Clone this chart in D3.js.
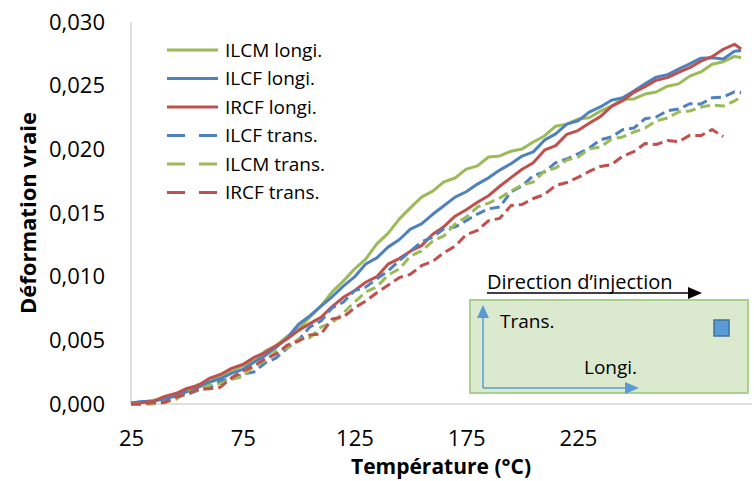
<!DOCTYPE html>
<html><head><meta charset="utf-8">
<script src="https://cdn.jsdelivr.net/npm/d3@7"></script>
<style>body{margin:0;background:#fff} text{font-family:"Open Sans",sans-serif;fill:#000}</style>
</head><body><svg id="c" width="754" height="481"></svg>
<script>
const temps = [25,30,35,40,45,50,55,60,65,70,75,80,85,90,95,100,105,110,115,120,125,130,135,140,145,150,155,160,165,170,175,180,185,190,195,200,205,210,215,220,225,230,235,240,245,250,255,260,265,270,275,280,285,290,295,298];
const ilcmLongi = [.00008,.00016,.00030,.00045,.00075,.00105,.00152,.00178,.00225,.00255,
 .00302,.00340,.00415,.00458,.00532,.00590,.00682,.00770,.00880,.00965,
 .01060,.01138,.01258,.01340,.01452,.01540,.01625,.01672,.01745,.01775,
 .01845,.01870,.01940,.01948,.01985,.02002,.02058,.02105,.02182,.02198,
 .02238,.02248,.02300,.02340,.02394,.02396,.02434,.02450,.02496,.02514,
 .02575,.02608,.02668,.02688,.02730,.02722];
const ilcfLongi = [.00008,.00020,.00022,.00043,.00060,.00098,.00130,.00170,.00200,.00240,
 .00272,.00328,.00380,.00446,.00520,.00626,.00692,.00768,.00842,.00926,
 .00998,.01099,.01148,.01232,.01290,.01373,.01415,.01490,.01557,.01625,
 .01667,.01727,.01776,.01837,.01887,.01947,.01980,.02072,.02121,.02198,
 .02224,.02292,.02333,.02386,.02405,.02458,.02514,.02567,.02585,.02630,
 .02671,.02716,.02719,.02710,.02770,.02776];
const ircfLongi = [0,.00012,.00020,.00060,.00082,.00123,.00145,.00201,.00232,.00280,
 .00310,.00366,.00404,.00460,.00513,.00578,.00631,.00680,.00765,.00838,
 .00890,.00956,.01000,.01098,.01142,.01200,.01244,.01333,.01393,.01475,
 .01526,.01584,.01636,.01710,.01778,.01844,.01895,.01993,.02029,.02118,
 .02147,.02205,.02257,.02338,.02382,.02448,.02492,.02543,.02563,.02605,
 .02642,.02692,.02728,.02786,.02825,.02788];
const ilcfTrans = [0,0,.00012,.00020,.00060,.00075,.00108,.00128,.00180,.00198,
 .00234,.00252,.00322,.00362,.00440,.00502,.00605,.00652,.00755,.00800,
 .00890,.00918,.00984,.01044,.01125,.01200,.01274,.01310,.01376,.01390,
 .01440,.01492,.01533,.01547,.01667,.01712,.01793,.01822,.01895,.01924,
 .01965,.02010,.02075,.02097,.02154,.02167,.02240,.02254,.02303,.02316,
 .02358,.02356,.02405,.02411,.02452,.02445];
const ilcmTrans = [0,0,0,.00012,.00035,.00092,.00112,.00147,.00160,.00194,
 .00215,.00298,.00340,.00415,.00442,.00510,.00520,.00604,.00638,.00715,
 .00800,.00880,.00920,.01013,.01060,.01162,.01202,.01280,.01320,.01414,
 .01468,.01547,.01578,.01618,.01673,.01720,.01743,.01830,.01853,.01916,
 .01940,.02003,.02018,.02081,.02097,.02136,.02167,.02223,.02246,.02293,
 .02301,.02332,.02348,.02340,.02380,.02410];
const ircfTrans = [0,0,.00012,.00012,.00052,.00080,.00116,.00120,.00132,.00205,
 .00258,.00298,.00354,.00393,.00463,.00495,.00542,.00550,.00668,.00683,
 .00755,.00808,.00874,.00932,.00992,.01019,.01086,.01121,.01188,.01239,
 .01330,.01363,.01440,.01458,.01558,.01567,.01614,.01645,.01716,.01739,
 .01780,.01826,.01866,.01880,.01946,.01982,.02046,.02038,.02069,.02060,
 .02110,.02108,.02155,.02100];
const seriesNames = ["ILCM longi.","ILCF longi.","IRCF longi.","ILCF trans.","ILCM trans.","IRCF trans."];
const xTicks = [25,75,125,175,225];
const yTicks = [0,0.005,0.010,0.015,0.020,0.025,0.030];

const GREEN="#9BBB59", BLUE="#4F81BD", RED="#C0504D";
const series = [
  {name:seriesNames[0], values:ilcmLongi, color:GREEN, dash:false},
  {name:seriesNames[1], values:ilcfLongi, color:BLUE, dash:false},
  {name:seriesNames[2], values:ircfLongi, color:RED, dash:false},
  {name:seriesNames[3], values:ilcfTrans, color:BLUE, dash:true},
  {name:seriesNames[4], values:ilcmTrans, color:GREEN, dash:true},
  {name:seriesNames[5], values:ircfTrans, color:RED, dash:true}
];

const svg = d3.select("#c");
const x = d3.scaleLinear().domain([25,300]).range([131,745.6]);
const y = d3.scaleLinear().domain([0,0.03]).range([404,22]);
const fmt = v => d3.format(".3f")(v).replace(".", ",");

// axis lines
svg.append("line").attr("x1",131).attr("x2",131).attr("y1",y(0.03)).attr("y2",y(0)).attr("stroke","#bfbfbf").attr("stroke-width",1);
svg.append("line").attr("x1",131).attr("x2",752).attr("y1",y(0)).attr("y2",y(0)).attr("stroke","#bfbfbf").attr("stroke-width",1);

const gy = svg.append("g").attr("transform","translate(131,0)")
  .call(d3.axisLeft(y).tickValues(yTicks).tickSize(0).tickPadding(26).tickFormat(fmt));
gy.select(".domain").remove();
gy.selectAll("text").style("font-size","22px").style("font-family","'Open Sans',sans-serif").attr("fill","#000");

const gx = svg.append("g").attr("transform","translate(0,404)")
  .call(d3.axisBottom(x).tickValues(xTicks).tickSize(0).tickPadding(26).tickFormat(d3.format("d")));
gx.select(".domain").remove();
gx.selectAll("text").style("font-size","22px").style("font-family","'Open Sans',sans-serif").attr("fill","#000");

// titles
svg.append("text").attr("transform","translate(36,213) rotate(-90)").attr("text-anchor","middle")
  .style("font-size","22px").style("font-weight","bold").text("Déformation vraie");
svg.append("text").attr("x",441).attr("y",474).attr("text-anchor","middle")
  .style("font-size","21px").style("font-weight","bold").text("Température (°C)");

// lines
const line = d3.line().x((d,i)=>x(temps[i])).y(d=>y(d));
series.forEach(s=>{
  svg.append("path").datum(s.values).attr("d",line).attr("fill","none")
    .attr("stroke",s.color).attr("stroke-width",3).attr("stroke-linejoin","round")
    .attr("stroke-dasharray", s.dash ? "10,5" : null);
});

// legend
const lg = svg.append("g");
series.forEach((s,i)=>{
  const yy = 50 + i*28.5;
  lg.append("line").attr("x1",167).attr("x2",218).attr("y1",yy).attr("y2",yy)
    .attr("stroke",s.color).attr("stroke-width",3).attr("stroke-dasharray", s.dash ? "18,14" : null);
  lg.append("text").attr("x",225).attr("y",yy).attr("dy","0.35em").style("font-size","19px").text(s.name);
});

// inset
const ins = svg.append("g");
ins.append("rect").attr("x",470).attr("y",300).attr("width",278).attr("height",93)
  .attr("fill","#dbe9cf").attr("stroke","#a9d18e").attr("stroke-width",2);
ins.append("text").attr("x",487).attr("y",289).style("font-size","20px").text("Direction d\u2019injection");
ins.append("line").attr("x1",487).attr("x2",690).attr("y1",293).attr("y2",293).attr("stroke","#000").attr("stroke-width",1.5);
ins.append("path").attr("d","M688,287 L702,293 L688,299 Z").attr("fill","#000");
const AB="#5B9BD5";
ins.append("line").attr("x1",483).attr("x2",483).attr("y1",388).attr("y2",315).attr("stroke",AB).attr("stroke-width",1.5);
ins.append("path").attr("d","M477,318 L483,305 L489,318 Z").attr("fill",AB);
ins.append("line").attr("x1",483).attr("x2",628).attr("y1",388).attr("y2",388).attr("stroke",AB).attr("stroke-width",1.5);
ins.append("path").attr("d","M625,382 L639,388 L625,394 Z").attr("fill",AB);
ins.append("text").attr("x",500).attr("y",328).style("font-size","19px").text("Trans.");
ins.append("text").attr("x",584).attr("y",374).style("font-size","19px").text("Longi.");
ins.append("rect").attr("x",714).attr("y",320).attr("width",15).attr("height",16)
  .attr("fill","#5B9BD5").attr("stroke","#41719C").attr("stroke-width",1.5);
</script></body></html>
